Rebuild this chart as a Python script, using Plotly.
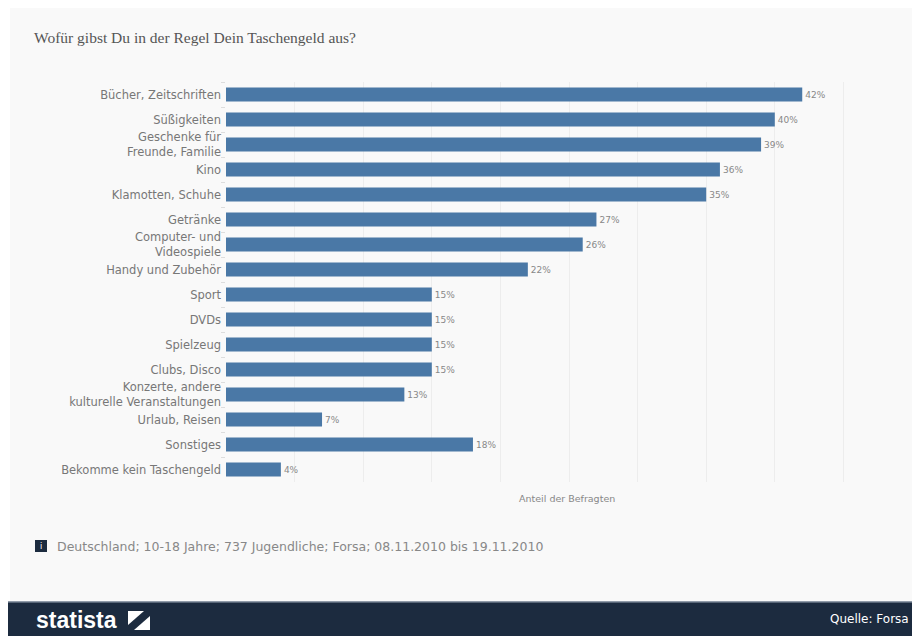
import plotly.graph_objects as go

categories = [
    "Bücher, Zeitschriften",
    "Süßigkeiten",
    "Geschenke für<br>Freunde, Familie",
    "Kino",
    "Klamotten, Schuhe",
    "Getränke",
    "Computer- und<br>Videospiele",
    "Handy und Zubehör",
    "Sport",
    "DVDs",
    "Spielzeug",
    "Clubs, Disco",
    "Konzerte, andere<br>kulturelle Veranstaltungen",
    "Urlaub, Reisen",
    "Sonstiges",
    "Bekomme kein Taschengeld",
]
values = [42, 40, 39, 36, 35, 27, 26, 22, 15, 15, 15, 15, 13, 7, 18, 4]
value_labels = [f"{v}%" for v in values]

title_text = "Wofür gibst Du in der Regel Dein Taschengeld aus?"
axis_title = "Anteil der Befragten"
note_text = "Deutschland; 10-18 Jahre; 737 Jugendliche; Forsa; 08.11.2010 bis 19.11.2010"
source_text = "Quelle: Forsa"

OFF = 8  # page body margin
W, H = 920 - OFF, 636 - OFF
PL, PR, PT, PB = 226, 912, 82, 482  # plot area in page pixels
L, T = PL - OFF, PT - OFF
R = W - (PR - OFF)
B = H - (PB - OFF)
PW = PR - PL
PH = PB - PT

def px(x):
    return (x - PL) / PW

def py(y):
    return (PB - y) / PH

SANS = "DejaVu Sans, Arial, sans-serif"

fig = go.Figure()
fig.add_trace(go.Bar(
    x=values,
    y=categories,
    orientation="h",
    marker=dict(color="#4a78a6", line=dict(width=0)),
    text=value_labels,
    textposition="outside",
    textfont=dict(family=SANS, size=9, color="#888"),
    cliponaxis=False,
    hoverinfo="skip",
))

shapes = [
    # card background
    dict(type="rect", xref="paper", yref="paper", x0=px(10), x1=px(925), y0=py(6), y1=py(602),
         fillcolor="#f9f9f9", line=dict(width=0), layer="below"),
    # footer
    dict(type="rect", xref="paper", yref="paper", x0=px(0), x1=px(925), y0=py(602), y1=py(640),
         fillcolor="#1c2b3f", line=dict(width=0), layer="above"),
    dict(type="line", xref="paper", yref="paper", x0=px(0), x1=px(925), y0=py(602), y1=py(602),
         line=dict(color="#6d7b8c", width=1.5), layer="above"),
    # statista icon
    dict(type="rect", xref="paper", yref="paper", x0=px(128), x1=px(150), y0=py(611), y1=py(630),
         fillcolor="#ffffff", line=dict(width=0), layer="above"),
    dict(type="path", xref="paper", yref="paper",
         path=f"M {px(128)},{py(625)} L {px(144)},{py(611)} L {px(150)},{py(611)} L {px(150)},{py(616)} L {px(134)},{py(630)} L {px(128)},{py(630)} Z",
         fillcolor="#1c2b3f", line=dict(width=0), layer="above"),
    # info icon
    dict(type="rect", xref="paper", yref="paper", x0=px(35), x1=px(47), y0=py(540), y1=py(552),
         fillcolor="#1c2b3f", line=dict(width=0), layer="above"),
]

annotations = [
    dict(text=title_text, xref="paper", yref="paper", x=px(32), y=py(38), xanchor="left", yanchor="middle",
         showarrow=False, font=dict(family="Liberation Serif, Times New Roman, serif", size=15.5, color="#555")),
    dict(text=axis_title, xref="paper", yref="paper", x=px(567), y=py(498), xanchor="center", yanchor="middle",
         showarrow=False, font=dict(family=SANS, size=9.5, color="#888")),
    dict(text="i", xref="paper", yref="paper", x=px(41), y=py(546), xanchor="center", yanchor="middle",
         showarrow=False, font=dict(family=SANS, size=8, color="#ffffff")),
    dict(text=note_text, xref="paper", yref="paper", x=px(55), y=py(546), xanchor="left", yanchor="middle",
         showarrow=False, font=dict(family=SANS, size=12.5, color="#888")),
    dict(text="<b>statista</b>", xref="paper", yref="paper", x=px(34), y=py(620), xanchor="left", yanchor="middle",
         showarrow=False, font=dict(family="Liberation Sans, Arial, sans-serif", size=23, color="#ffffff")),
    dict(text=source_text, xref="paper", yref="paper", x=px(911), y=py(619), xanchor="right", yanchor="middle",
         showarrow=False, font=dict(family=SANS, size=12, color="#ffffff")),
]

fig.update_layout(
    width=W, height=H,
    margin=dict(l=L, r=R, t=T, b=B, pad=0),
    paper_bgcolor="#ffffff",
    plot_bgcolor="rgba(0,0,0,0)",
    showlegend=False,
    bargap=0.44,
    shapes=shapes,
    annotations=annotations,
    xaxis=dict(range=[0, 50], dtick=5, showticklabels=False, showgrid=True,
               gridcolor="#ededed", gridwidth=1, zeroline=False, showline=False, fixedrange=True),
    yaxis=dict(autorange="reversed", showgrid=False, zeroline=False, showline=False,
               ticks="outside", tickson="boundaries", ticklen=4, tickcolor="#dddddd",
               tickfont=dict(family=SANS, size=11.5, color="#777"),
               ticklabelstandoff=4),
)

fig.write_html("out.html")
